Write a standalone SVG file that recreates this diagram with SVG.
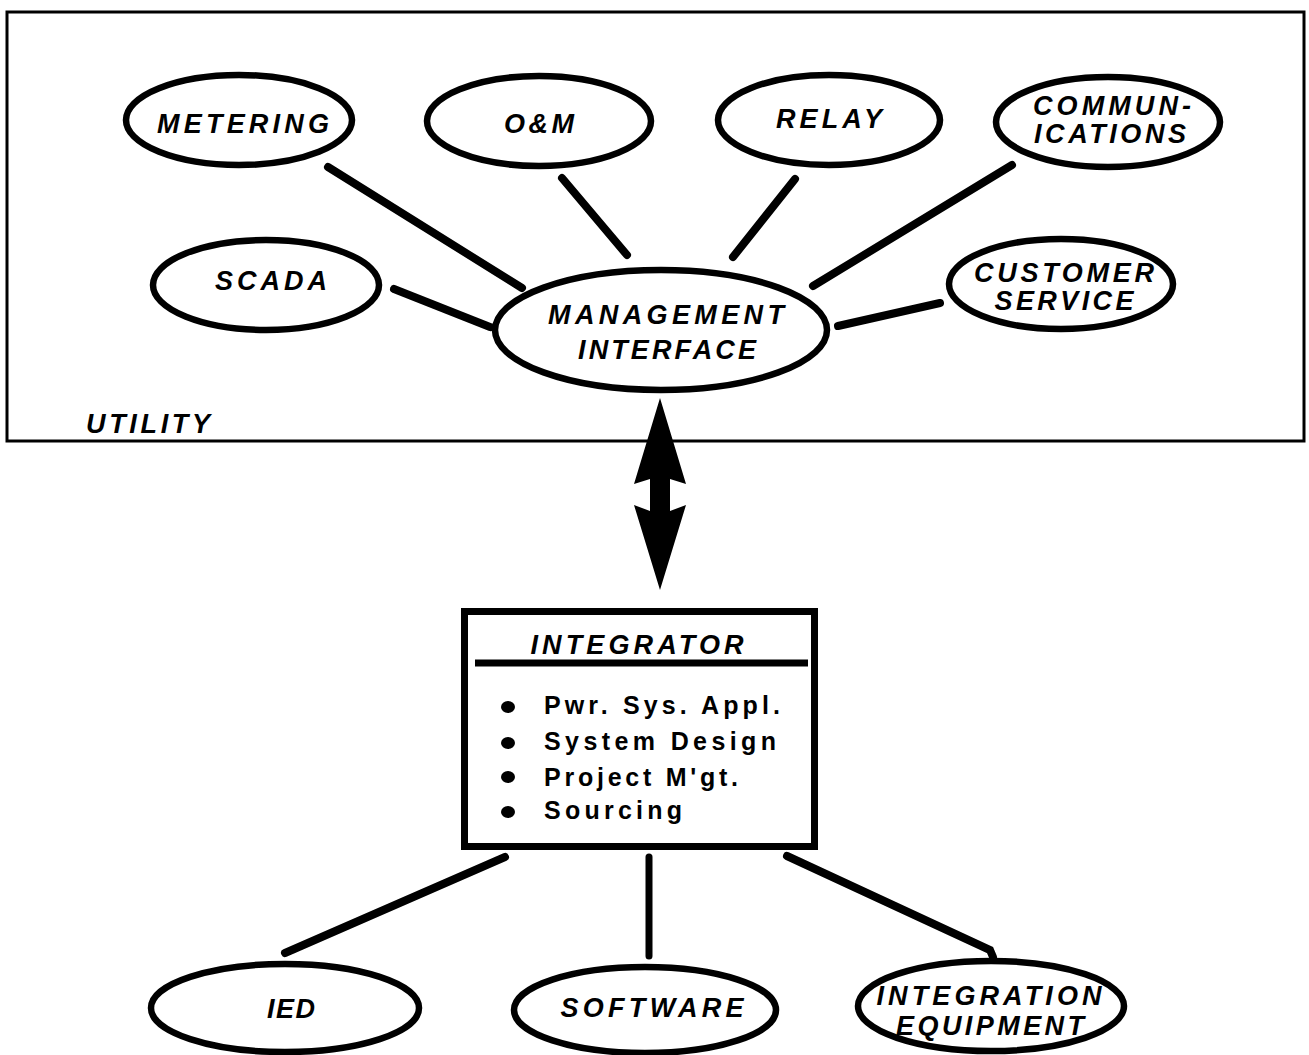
<svg xmlns="http://www.w3.org/2000/svg" width="1309" height="1055" viewBox="0 0 1309 1055">
<style>
.n{fill:#fff;stroke:#000;stroke-width:6.5}
.c{stroke:#000;stroke-width:8;stroke-linecap:round;fill:none}
.t{font-family:"Liberation Sans",Arial,sans-serif;font-weight:bold;font-style:italic;font-size:27px;fill:#000;text-anchor:middle}
.b{font-family:"Liberation Sans",Arial,sans-serif;font-weight:bold;font-size:25px;fill:#000}
</style>
<rect width="1309" height="1055" fill="#fff"/>
<g id="utility">
<rect x="7" y="12" width="1297" height="429" fill="none" stroke="#000" stroke-width="3"/>
<text class="t" x="148" y="433" textLength="124" lengthAdjust="spacing">UTILITY</text>
</g>
<g id="connectors">
<line class="c" x1="328" y1="167" x2="522" y2="288"/>
<line class="c" x1="562" y1="178" x2="627" y2="255"/>
<line class="c" x1="795" y1="179" x2="733" y2="257"/>
<line class="c" x1="1012" y1="165" x2="813" y2="286"/>
<line class="c" x1="394" y1="289" x2="490" y2="327"/>
<line class="c" x1="940" y1="303" x2="838" y2="326"/>
<polygon points="660,398 686,484 670,479 670,511 686,505 660,590 634,505 650,511 650,479 634,484" fill="#000"/>
<line class="c" x1="505" y1="857" x2="285" y2="953"/>
<line class="c" x1="649" y1="857" x2="649" y2="956" style="stroke-width:7"/>
<polyline class="c" points="787,856 990,950 993,957"/>
</g>
<g id="metering">
<ellipse class="n" cx="239" cy="120" rx="113" ry="45"/>
<text class="t" x="243" y="133" textLength="172" lengthAdjust="spacing">METERING</text>
</g>
<g id="om">
<ellipse class="n" cx="539" cy="121" rx="112" ry="45"/>
<text class="t" x="539" y="133" textLength="70" lengthAdjust="spacing">O&amp;M</text>
</g>
<g id="relay">
<ellipse class="n" cx="829" cy="120" rx="111" ry="45"/>
<text class="t" x="829" y="128" textLength="106" lengthAdjust="spacing">RELAY</text>
</g>
<g id="communications">
<ellipse class="n" cx="1108" cy="122" rx="112" ry="45"/>
<text class="t" x="1112" y="115" textLength="158" lengthAdjust="spacing">COMMUN-</text>
<text class="t" x="1110" y="143" textLength="152" lengthAdjust="spacing">ICATIONS</text>
</g>
<g id="scada">
<ellipse class="n" cx="266" cy="285" rx="113" ry="45"/>
<text class="t" x="271" y="290" textLength="112" lengthAdjust="spacing">SCADA</text>
</g>
<g id="management">
<ellipse class="n" cx="661" cy="330" rx="166" ry="60"/>
<text class="t" x="666" y="324" textLength="236" lengthAdjust="spacing">MANAGEMENT</text>
<text class="t" x="667" y="359" textLength="178" lengthAdjust="spacing">INTERFACE</text>
</g>
<g id="customer">
<ellipse class="n" cx="1061" cy="284" rx="112" ry="45"/>
<text class="t" x="1064" y="282" textLength="180" lengthAdjust="spacing">CUSTOMER</text>
<text class="t" x="1064" y="310" textLength="139" lengthAdjust="spacing">SERVICE</text>
</g>
<g id="integrator">
<rect x="464.5" y="611.5" width="350" height="235" fill="#fff" stroke="#000" stroke-width="7"/>
<text class="t" x="637" y="654" textLength="213" lengthAdjust="spacing">INTEGRATOR</text>
<line x1="475" y1="663" x2="808" y2="663" stroke="#000" stroke-width="7"/>
<ellipse cx="508" cy="707" rx="7" ry="6"/>
<ellipse cx="508" cy="743" rx="7" ry="6"/>
<ellipse cx="508" cy="777" rx="7" ry="6"/>
<ellipse cx="508" cy="812" rx="7" ry="6"/>
<text class="b" x="544" y="714" textLength="236" lengthAdjust="spacing">Pwr. Sys. Appl.</text>
<text class="b" x="544" y="750" textLength="232" lengthAdjust="spacing">System Design</text>
<text class="b" x="544" y="786" textLength="194" lengthAdjust="spacing">Project M'gt.</text>
<text class="b" x="544" y="819" textLength="138" lengthAdjust="spacing">Sourcing</text>
</g>
<g id="ied">
<ellipse class="n" cx="285" cy="1008" rx="134" ry="44"/>
<text class="t" x="291" y="1018" textLength="48" lengthAdjust="spacing">IED</text>
</g>
<g id="software">
<ellipse class="n" cx="645" cy="1010" rx="131" ry="43"/>
<text class="t" x="652" y="1017" textLength="183" lengthAdjust="spacing">SOFTWARE</text>
</g>
<g id="integration-equipment">
<ellipse class="n" cx="991" cy="1006" rx="133" ry="45"/>
<text class="t" x="989" y="1005" textLength="225" lengthAdjust="spacing">INTEGRATION</text>
<text class="t" x="990" y="1035" textLength="188" lengthAdjust="spacing">EQUIPMENT</text>
</g>
</svg>
